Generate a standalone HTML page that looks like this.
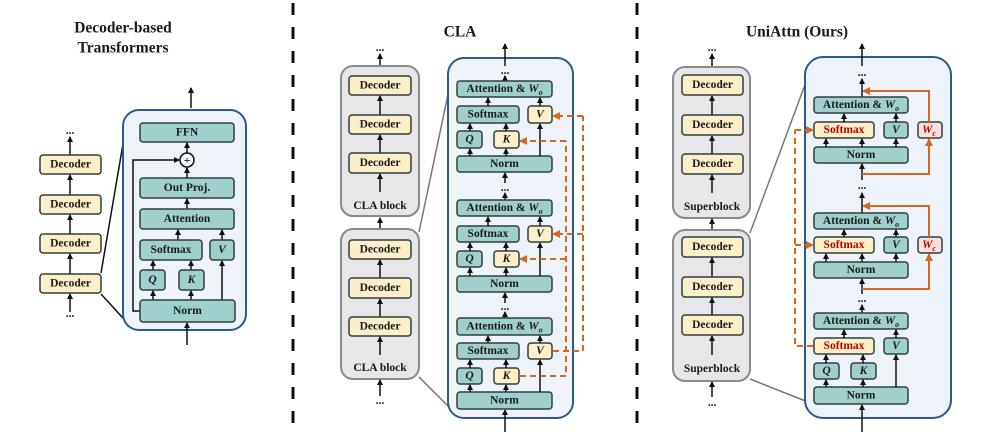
<!DOCTYPE html>
<html><head><meta charset="utf-8"><style>
body{margin:0;background:#fff}
svg{display:block}
text{font-family:"Liberation Serif",serif;font-weight:bold;font-size:11.5px;text-anchor:middle;dominant-baseline:central;fill:#1a1a1a}
.t{font-size:15.5px}
.tl{fill:#9fd0cb;stroke:#2f3f3f;stroke-width:1.5}
.yl{fill:#fdf0c8;stroke:#2f3f3f;stroke-width:1.5}
.pk{fill:#fde0dc;stroke:#2f3f3f;stroke-width:1.5}
.gb{fill:#e7e7ea;stroke:#8a8a8a;stroke-width:2}
.db{fill:#edf3f9;stroke:#2e5a87;stroke-width:2}
.a{stroke:#111;stroke-width:1.5;fill:none;marker-end:url(#ah)}
.l{stroke:#111;stroke-width:1.5;fill:none}
.c{stroke:#777;stroke-width:1.5;fill:none}
.o{stroke:#d2691e;stroke-width:2;fill:none}
.od{stroke:#d2691e;stroke-width:2;fill:none;stroke-dasharray:6 4}
.oa{marker-end:url(#oh)}
.r{fill:#c00000}
.i{font-style:italic}
</style></head><body>
<svg width="987" height="433" viewBox="0 0 987 433" xmlns="http://www.w3.org/2000/svg">
<defs>
<marker id="ah" markerWidth="6" markerHeight="6" refX="5" refY="3" orient="auto" markerUnits="userSpaceOnUse"><path d="M0,0 L6,3 L0,6 z" fill="#111"/></marker>
<marker id="oh" markerWidth="8" markerHeight="8" refX="7" refY="4" orient="auto" markerUnits="userSpaceOnUse"><path d="M0,0 L8,4 L0,8 z" fill="#d2691e"/></marker>
</defs>
<line x1="293" y1="3" x2="293" y2="433" stroke="#111" stroke-width="3" stroke-dasharray="12 12"/>
<line x1="637" y1="3" x2="637" y2="433" stroke="#111" stroke-width="3" stroke-dasharray="12 12"/>

<!-- LEFT -->
<text class="t" x="123" y="28">Decoder-based</text>
<text class="t" x="123" y="48">Transformers</text>
<text x="70" y="131">...</text>
<line class="a" x1="70" y1="155" x2="70" y2="137"/>
<rect class="yl" x="40" y="155" width="61" height="19" rx="3"/><text x="70.5" y="164.5">Decoder</text>
<line class="a" x1="70" y1="195" x2="70" y2="175"/>
<rect class="yl" x="40" y="195" width="61" height="19" rx="3"/><text x="70.5" y="204.5">Decoder</text>
<line class="a" x1="70" y1="234" x2="70" y2="215"/>
<rect class="yl" x="40" y="234" width="61" height="19" rx="3"/><text x="70.5" y="243.5">Decoder</text>
<line class="a" x1="70" y1="274" x2="70" y2="254"/>
<rect class="yl" x="40" y="274" width="61" height="19" rx="3"/><text x="70.5" y="283.5">Decoder</text>
<line class="a" x1="70" y1="312" x2="70" y2="294"/>
<text x="70" y="314">...</text>
<line class="l" x1="101" y1="273" x2="124" y2="138" stroke-width="2"/>
<line class="l" x1="101" y1="294" x2="132" y2="328" stroke-width="2"/>
<rect class="db" x="123" y="110" width="123" height="220" rx="16"/>
<line class="a" x1="191" y1="108" x2="191" y2="88"/>
<line class="a" x1="187" y1="345" x2="187" y2="323"/>
<rect class="tl" x="140" y="123" width="94" height="19" rx="3"/><text x="187" y="132.5">FFN</text>
<line class="a" x1="187" y1="153" x2="187" y2="143"/>
<circle cx="187" cy="160" r="7" fill="#fff" stroke="#111" stroke-width="1.5"/><text x="187" y="160" style="font-size:12px">+</text>
<line class="a" x1="187" y1="178" x2="187" y2="168"/>
<polyline class="a" points="140,311 133,311 133,160 179,160"/>
<rect class="tl" x="140" y="178" width="94" height="20" rx="3"/><text x="187" y="188">Out Proj.</text>
<line class="a" x1="187" y1="209" x2="187" y2="199"/>
<rect class="tl" x="140" y="209" width="94" height="20" rx="3"/><text x="187" y="219">Attention</text>
<line class="a" x1="178" y1="240" x2="178" y2="230"/>
<line class="a" x1="222" y1="240" x2="222" y2="230"/>
<rect class="tl" x="140" y="240" width="62" height="20" rx="3"/><text x="171" y="250">Softmax</text>
<rect class="tl" x="210" y="240" width="24" height="20" rx="3"/><text class="i" x="222" y="250">V</text>
<line class="a" x1="153" y1="270" x2="153" y2="261"/>
<line class="a" x1="191" y1="270" x2="191" y2="261"/>
<line class="a" x1="222" y1="300" x2="222" y2="261"/>
<rect class="tl" x="140" y="270" width="25" height="20" rx="3"/><text class="i" x="152.5" y="280">Q</text>
<rect class="tl" x="179" y="270" width="25" height="20" rx="3"/><text class="i" x="191.5" y="280">K</text>
<line class="a" x1="153" y1="300" x2="153" y2="291"/>
<line class="a" x1="191" y1="300" x2="191" y2="291"/>
<rect class="tl" x="140" y="300" width="95" height="22" rx="3"/><text x="187.5" y="311">Norm</text>

<!-- MIDDLE -->
<text class="t" x="460" y="32">CLA</text>
<text x="380" y="48">...</text>
<line class="a" x1="380" y1="67" x2="380" y2="54"/>
<rect class="gb" x="341" y="66" width="78" height="150" rx="12"/>
<rect class="yl" x="349" y="76" width="62" height="19" rx="3"/><text x="380" y="85.5">Decoder</text>
<line class="a" x1="380" y1="115" x2="380" y2="96"/>
<rect class="yl" x="349" y="115" width="62" height="19" rx="3"/><text x="380" y="124.5">Decoder</text>
<line class="a" x1="380" y1="153" x2="380" y2="135"/>
<rect class="yl" x="349" y="153" width="62" height="20" rx="3"/><text x="380" y="163">Decoder</text>
<line class="a" x1="380" y1="192" x2="380" y2="174"/>
<text x="380" y="206">CLA block</text>
<line class="a" x1="380" y1="240" x2="380" y2="218"/>
<rect class="gb" x="341" y="229" width="78" height="150" rx="12"/>
<rect class="yl" x="349" y="240" width="62" height="19" rx="3"/><text x="380" y="249.5">Decoder</text>
<line class="a" x1="380" y1="278" x2="380" y2="260"/>
<rect class="yl" x="349" y="278" width="62" height="20" rx="3"/><text x="380" y="288">Decoder</text>
<line class="a" x1="380" y1="317" x2="380" y2="299"/>
<rect class="yl" x="349" y="317" width="62" height="19" rx="3"/><text x="380" y="326.5">Decoder</text>
<line class="a" x1="380" y1="355" x2="380" y2="337"/>
<text x="380" y="368">CLA block</text>
<line class="a" x1="380" y1="396" x2="380" y2="380"/>
<text x="380" y="401">...</text>
<line class="c" x1="419" y1="232" x2="450" y2="85"/>
<line class="c" x1="419" y1="377" x2="452" y2="410"/>
<rect class="db" x="448" y="58" width="125" height="360" rx="16"/>
<line class="a" x1="505" y1="66" x2="505" y2="44"/>
<text x="505" y="71">...</text>
<line class="a" x1="505" y1="81" x2="505" y2="76"/>
<line class="a" x1="505" y1="432" x2="505" y2="410"/>
<rect class="tl" x="457" y="81" width="95" height="16" rx="3"/><text x="504.5" y="89">Attention &amp; <tspan class="i">W</tspan><tspan class="i" style="font-size:8px" dy="3">o</tspan></text>
<rect class="tl" x="457" y="106" width="62" height="17" rx="3"/><text x="488" y="114.5">Softmax</text>
<rect class="yl" x="528" y="106" width="24" height="17" rx="3"/><text class="i" x="540" y="114.5">V</text>
<rect class="tl" x="457" y="131" width="25" height="17" rx="3"/><text class="i" x="469.5" y="139.5">Q</text>
<rect class="yl" x="494" y="131" width="25" height="17" rx="3"/><text class="i" x="506.5" y="139.5">K</text>
<rect class="tl" x="457" y="156" width="95" height="16" rx="3"/><text x="504.5" y="164">Norm</text>
<line class="a" x1="488" y1="106" x2="488" y2="98"/><line class="a" x1="540" y1="106" x2="540" y2="98"/>
<line class="a" x1="470" y1="131" x2="470" y2="124"/><line class="a" x1="506" y1="131" x2="506" y2="124"/>
<line class="a" x1="470" y1="156" x2="470" y2="149"/><line class="a" x1="506" y1="156" x2="506" y2="149"/>
<line class="a" x1="540" y1="156" x2="540" y2="124"/>
<line class="a" x1="505" y1="183" x2="505" y2="173"/>
<text x="505" y="188">...</text>
<line class="a" x1="505" y1="200" x2="505" y2="193"/>
<rect class="tl" x="457" y="200" width="95" height="16" rx="3"/><text x="504.5" y="208">Attention &amp; <tspan class="i">W</tspan><tspan class="i" style="font-size:8px" dy="3">o</tspan></text>
<rect class="tl" x="457" y="226" width="62" height="16" rx="3"/><text x="488" y="234">Softmax</text>
<rect class="yl" x="528" y="226" width="24" height="16" rx="3"/><text class="i" x="540" y="234">V</text>
<rect class="tl" x="457" y="251" width="25" height="16" rx="3"/><text class="i" x="469.5" y="259">Q</text>
<rect class="yl" x="494" y="251" width="25" height="16" rx="3"/><text class="i" x="506.5" y="259">K</text>
<rect class="tl" x="457" y="276" width="95" height="16" rx="3"/><text x="504.5" y="284">Norm</text>
<line class="a" x1="488" y1="226" x2="488" y2="217"/><line class="a" x1="540" y1="226" x2="540" y2="217"/>
<line class="a" x1="470" y1="251" x2="470" y2="243"/><line class="a" x1="506" y1="251" x2="506" y2="243"/>
<line class="a" x1="470" y1="276" x2="470" y2="268"/><line class="a" x1="506" y1="276" x2="506" y2="268"/>
<line class="a" x1="540" y1="276" x2="540" y2="243"/>
<line class="a" x1="505" y1="303" x2="505" y2="293"/>
<text x="505" y="307">...</text>
<line class="a" x1="505" y1="318" x2="505" y2="312"/>
<rect class="tl" x="457" y="318" width="95" height="17" rx="3"/><text x="504.5" y="326.5">Attention &amp; <tspan class="i">W</tspan><tspan class="i" style="font-size:8px" dy="3">o</tspan></text>
<rect class="tl" x="457" y="343" width="62" height="16" rx="3"/><text x="488" y="351">Softmax</text>
<rect class="yl" x="528" y="343" width="24" height="16" rx="3"/><text class="i" x="540" y="351">V</text>
<rect class="tl" x="457" y="368" width="25" height="16" rx="3"/><text class="i" x="469.5" y="376">Q</text>
<rect class="yl" x="494" y="368" width="25" height="16" rx="3"/><text class="i" x="506.5" y="376">K</text>
<rect class="tl" x="457" y="392" width="95" height="17" rx="3"/><text x="504.5" y="400.5">Norm</text>
<line class="a" x1="488" y1="343" x2="488" y2="336"/><line class="a" x1="540" y1="343" x2="540" y2="336"/>
<line class="a" x1="470" y1="368" x2="470" y2="360"/><line class="a" x1="506" y1="368" x2="506" y2="360"/>
<line class="a" x1="470" y1="392" x2="470" y2="385"/><line class="a" x1="506" y1="392" x2="506" y2="385"/>
<line class="a" x1="540" y1="392" x2="540" y2="360"/>
<polyline class="od" points="553,351 583,351 583,116"/>
<line class="od oa" x1="583" y1="116" x2="553" y2="116"/>
<line class="od oa" x1="583" y1="234" x2="553" y2="234"/>
<polyline class="od" points="520,376 566,376 566,141"/>
<line class="od oa" x1="566" y1="141" x2="520" y2="141"/>
<line class="od oa" x1="566" y1="259" x2="520" y2="259"/>

<!-- RIGHT -->
<text class="t" x="797" y="32">UniAttn (Ours)</text>
<text x="712" y="48">...</text>
<line class="a" x1="712" y1="67" x2="712" y2="54"/>
<rect class="gb" x="673" y="67" width="77" height="151" rx="12"/>
<rect class="yl" x="682" y="75" width="61" height="20" rx="3"/><text x="712.5" y="85">Decoder</text>
<line class="a" x1="712" y1="115" x2="712" y2="96"/>
<rect class="yl" x="682" y="115" width="61" height="20" rx="3"/><text x="712.5" y="125">Decoder</text>
<line class="a" x1="712" y1="154" x2="712" y2="136"/>
<rect class="yl" x="682" y="154" width="61" height="20" rx="3"/><text x="712.5" y="164">Decoder</text>
<line class="a" x1="712" y1="193" x2="712" y2="175"/>
<text x="712" y="207">Superblock</text>
<line class="a" x1="712" y1="237" x2="712" y2="219"/>
<rect class="gb" x="673" y="230" width="77" height="151" rx="12"/>
<rect class="yl" x="682" y="237" width="61" height="20" rx="3"/><text x="712.5" y="247">Decoder</text>
<line class="a" x1="712" y1="277" x2="712" y2="258"/>
<rect class="yl" x="682" y="277" width="61" height="20" rx="3"/><text x="712.5" y="287">Decoder</text>
<line class="a" x1="712" y1="315" x2="712" y2="298"/>
<rect class="yl" x="682" y="315" width="61" height="20" rx="3"/><text x="712.5" y="325">Decoder</text>
<line class="a" x1="712" y1="355" x2="712" y2="336"/>
<text x="712" y="369">Superblock</text>
<line class="a" x1="712" y1="397" x2="712" y2="382"/>
<text x="712" y="403">...</text>
<line class="c" x1="750" y1="233" x2="806" y2="82"/>
<line class="c" x1="750" y1="379" x2="808" y2="402"/>
<rect class="db" x="805" y="57" width="146" height="361" rx="18"/>
<line class="a" x1="862" y1="66" x2="862" y2="44"/>
<text x="862" y="73">...</text>
<line class="a" x1="862" y1="97" x2="862" y2="79"/>
<rect class="tl" x="814" y="97" width="94" height="16" rx="3"/><text x="861" y="105">Attention &amp; <tspan class="i">W</tspan><tspan class="i" style="font-size:8px" dy="3">o</tspan></text>
<rect class="yl" x="814" y="122" width="60" height="16" rx="3"/><text class="r" x="844" y="130">Softmax</text>
<rect class="tl" x="884" y="122" width="24" height="16" rx="3"/><text class="i" x="896" y="130">V</text>
<rect class="pk" x="918" y="122" width="24" height="16" rx="3"/><text class="r i" x="929" y="130">W<tspan style="font-size:8px" dy="3">c</tspan></text>
<rect class="tl" x="814" y="147" width="94" height="16" rx="3"/><text x="861" y="155">Norm</text>
<line class="a" x1="844" y1="122" x2="844" y2="114"/><line class="a" x1="896" y1="122" x2="896" y2="114"/>
<line class="a" x1="826" y1="147" x2="826" y2="139"/><line class="a" x1="862" y1="147" x2="862" y2="139"/><line class="a" x1="896" y1="147" x2="896" y2="139"/>
<line class="a" x1="862" y1="180" x2="862" y2="164"/>
<polyline class="o oa" points="862,174 929,174 929,139"/>
<polyline class="o oa" points="929,122 929,91 863,91"/>
<text x="862" y="186">...</text>
<line class="a" x1="862" y1="213" x2="862" y2="193"/>
<rect class="tl" x="814" y="213" width="94" height="16" rx="3"/><text x="861" y="221">Attention &amp; <tspan class="i">W</tspan><tspan class="i" style="font-size:8px" dy="3">o</tspan></text>
<rect class="yl" x="814" y="237" width="60" height="16" rx="3"/><text class="r" x="844" y="245">Softmax</text>
<rect class="tl" x="884" y="237" width="24" height="16" rx="3"/><text class="i" x="896" y="245">V</text>
<rect class="pk" x="918" y="237" width="24" height="16" rx="3"/><text class="r i" x="929" y="245">W<tspan style="font-size:8px" dy="3">c</tspan></text>
<rect class="tl" x="814" y="262" width="94" height="16" rx="3"/><text x="861" y="270">Norm</text>
<line class="a" x1="844" y1="237" x2="844" y2="230"/><line class="a" x1="896" y1="237" x2="896" y2="230"/>
<line class="a" x1="826" y1="262" x2="826" y2="254"/><line class="a" x1="862" y1="262" x2="862" y2="254"/><line class="a" x1="896" y1="262" x2="896" y2="254"/>
<line class="a" x1="862" y1="294" x2="862" y2="279"/>
<polyline class="o oa" points="862,289 929,289 929,254"/>
<polyline class="o oa" points="929,237 929,206 863,206"/>
<text x="862" y="299">...</text>
<line class="a" x1="862" y1="313" x2="862" y2="305"/>
<rect class="tl" x="814" y="313" width="94" height="16" rx="3"/><text x="861" y="321">Attention &amp; <tspan class="i">W</tspan><tspan class="i" style="font-size:8px" dy="3">o</tspan></text>
<rect class="yl" x="814" y="338" width="60" height="16" rx="3"/><text class="r" x="844" y="346">Softmax</text>
<rect class="tl" x="884" y="338" width="24" height="16" rx="3"/><text class="i" x="896" y="346">V</text>
<rect class="tl" x="814" y="363" width="25" height="16" rx="3"/><text class="i" x="826.5" y="371">Q</text>
<rect class="tl" x="851" y="363" width="25" height="16" rx="3"/><text class="i" x="863.5" y="371">K</text>
<rect class="tl" x="814" y="387" width="94" height="17" rx="3"/><text x="861" y="395.5">Norm</text>
<line class="a" x1="844" y1="338" x2="844" y2="330"/><line class="a" x1="896" y1="338" x2="896" y2="330"/>
<line class="a" x1="826" y1="363" x2="826" y2="355"/><line class="a" x1="863" y1="363" x2="863" y2="355"/>
<line class="a" x1="826" y1="387" x2="826" y2="380"/><line class="a" x1="863" y1="387" x2="863" y2="380"/>
<line class="a" x1="896" y1="387" x2="896" y2="355"/>
<line class="a" x1="862" y1="432" x2="862" y2="405"/>
<polyline class="od" points="813,346 795,346 795,130"/>
<line class="od oa" x1="795" y1="130" x2="813" y2="130"/>
<line class="od oa" x1="795" y1="245" x2="813" y2="245"/>
</svg>
</body></html>
